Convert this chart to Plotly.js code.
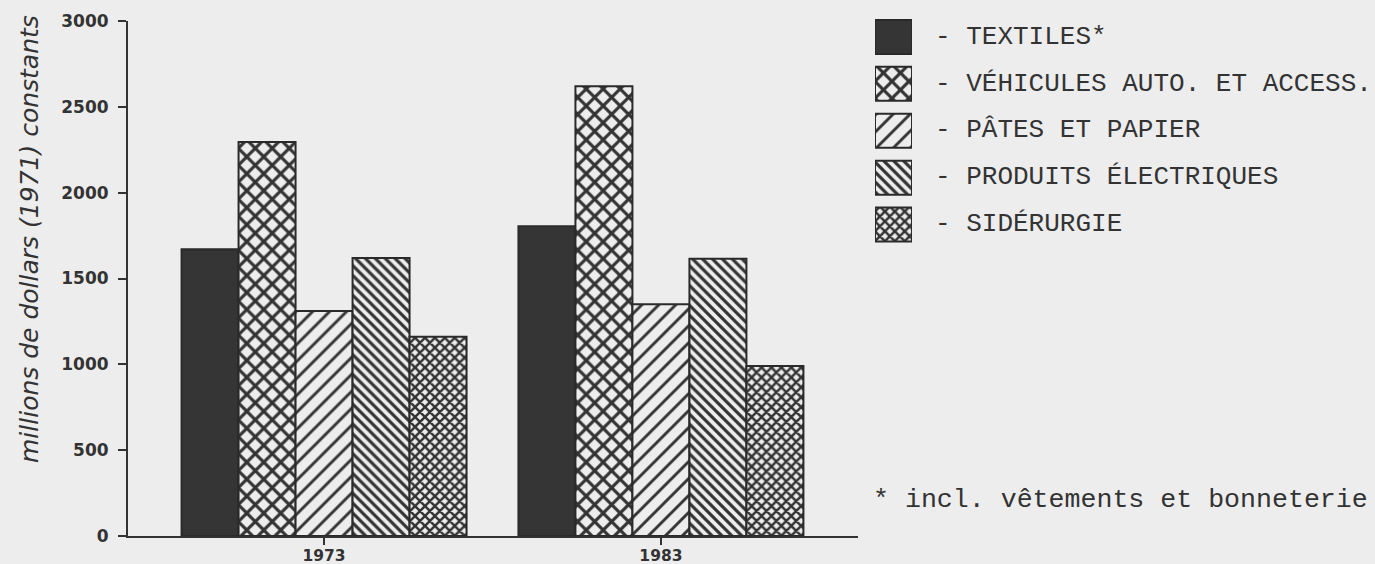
<!DOCTYPE html>
<html>
<head>
<meta charset="utf-8">
<script src="https://cdn.plot.ly/plotly-3.0.1.min.js"></script>
<style>html,body{margin:0;padding:0;background:#ededee;}#chart{width:1375px;height:564px;}</style>
</head>
<body>
<div id="chart"></div>
<script>
// ---- data ----
const categories = ['1973', '1983'];
const seriesNames = ['TEXTILES*', 'VÉHICULES AUTO. ET ACCESS.', 'PÂTES ET PAPIER', 'PRODUITS ÉLECTRIQUES', 'SIDÉRURGIE'];
const textiles = [1670, 1805];
const vehicules = [2295, 2620];
const pates = [1310, 1350];
const electriques = [1620, 1615];
const siderurgie = [1160, 990];
const yTickVals = [0, 500, 1000, 1500, 2000, 2500, 3000];
const yTitle = 'millions de dollars (1971) constants';
const footnote = '* incl. vêtements et bonneterie';

// ---- styles ----
const BG = '#ededee';
const INK = '#333333';
const seriesValues = [textiles, vehicules, pates, electriques, siderurgie];
const fills = [
  {color: '#353535', shape: '', size: 8, solidity: 0.3},
  {color: BG, shape: 'x', size: 12, solidity: 0.45},
  {color: BG, shape: '/', size: 12, solidity: 0.24},
  {color: BG, shape: '\\', size: 7, solidity: 0.45},
  {color: BG, shape: 'x', size: 7, solidity: 0.58}
];

function markerFor(i) {
  const m = {color: fills[i].color, line: {color: '#2a2a2a', width: 2}};
  if (fills[i].shape) {
    m.pattern = {shape: fills[i].shape, size: fills[i].size, solidity: fills[i].solidity, fgcolor: INK, bgcolor: BG, fillmode: 'replace'};
  }
  return m;
}

const traces = seriesNames.map((name, i) => ({
  type: 'bar', name: name, x: categories, y: seriesValues[i],
  xaxis: 'x', yaxis: 'y', showlegend: false, hoverinfo: 'skip',
  marker: markerFor(i)
}));

// legend swatches drawn as bars on their own small axes
seriesNames.forEach((name, i) => {
  traces.push({
    type: 'bar', orientation: 'h', y: [name], x: [1],
    xaxis: 'x2', yaxis: 'y2', width: 0.725, showlegend: false, hoverinfo: 'skip',
    marker: markerFor(i)
  });
});

// pixel geometry helpers
const L = 128, R = 3, T = 10, B = 28, W = 1375, H = 564;
const pw = W - L - R, ph = H - T - B;
const px = x => (x - L) / pw;
const py = y => (H - B - y) / ph;

const monoFont = {family: 'Liberation Mono, monospace', size: 26, color: INK};
const legendRowsY = [37, 84, 130, 177, 224.5];
const annotations = seriesNames.map((n, i) => ({
  xref: 'paper', yref: 'paper', x: px(933), y: py(legendRowsY[i]),
  xanchor: 'left', yanchor: 'middle', showarrow: false,
  text: '- ' + n, font: monoFont
}));
annotations.push({
  xref: 'paper', yref: 'paper', x: px(871), y: py(500),
  xanchor: 'left', yanchor: 'middle', showarrow: false,
  text: footnote, font: {family: 'Liberation Mono, monospace', size: 26.6, color: INK}
});
annotations.push({
  xref: 'paper', yref: 'paper', x: px(29), y: py(239),
  xanchor: 'center', yanchor: 'middle', showarrow: false, textangle: -90,
  text: '<i>' + yTitle + '</i>',
  font: {family: 'DejaVu Sans, sans-serif', size: 25, color: INK}
});

const layout = {
  width: W, height: H,
  margin: {l: L, r: R, t: T, b: B},
  paper_bgcolor: BG, plot_bgcolor: 'rgba(0,0,0,0)',
  bargap: 0.154, bargroupgap: 0, barmode: 'group',
  showlegend: false,
  xaxis: {
    domain: [0, px(858)], type: 'category', range: [-0.582, 1.585],
    showline: true, linecolor: INK, linewidth: 2, showgrid: false, zeroline: false,
    ticks: 'outside', ticklen: 7, tickwidth: 2, tickcolor: INK,
    tickfont: {family: 'DejaVu Sans, sans-serif', size: 15.5, color: INK, weight: 'bold'},
    ticklabelstandoff: -3, fixedrange: true
  },
  yaxis: {
    domain: [0, py(21)], range: [0, 3000], tickvals: yTickVals,
    showline: true, linecolor: INK, linewidth: 2, showgrid: false, zeroline: false,
    ticks: 'outside', ticklen: 8, tickwidth: 2, tickcolor: INK,
    tickfont: {family: 'DejaVu Sans, sans-serif', size: 17, color: INK, weight: 'bold'},
    ticklabelstandoff: 6, fixedrange: true
  },
  xaxis2: {domain: [px(875), px(912)], range: [0, 1], anchor: 'y2', visible: false, fixedrange: true},
  yaxis2: {domain: [py(248), py(13.5)], anchor: 'x2', type: 'category', categoryarray: seriesNames, range: [4.5, -0.5], visible: false, fixedrange: true},
  annotations: annotations
};

Plotly.newPlot('chart', traces, layout, {staticPlot: true, displayModeBar: false});
</script>
</body>
</html>
